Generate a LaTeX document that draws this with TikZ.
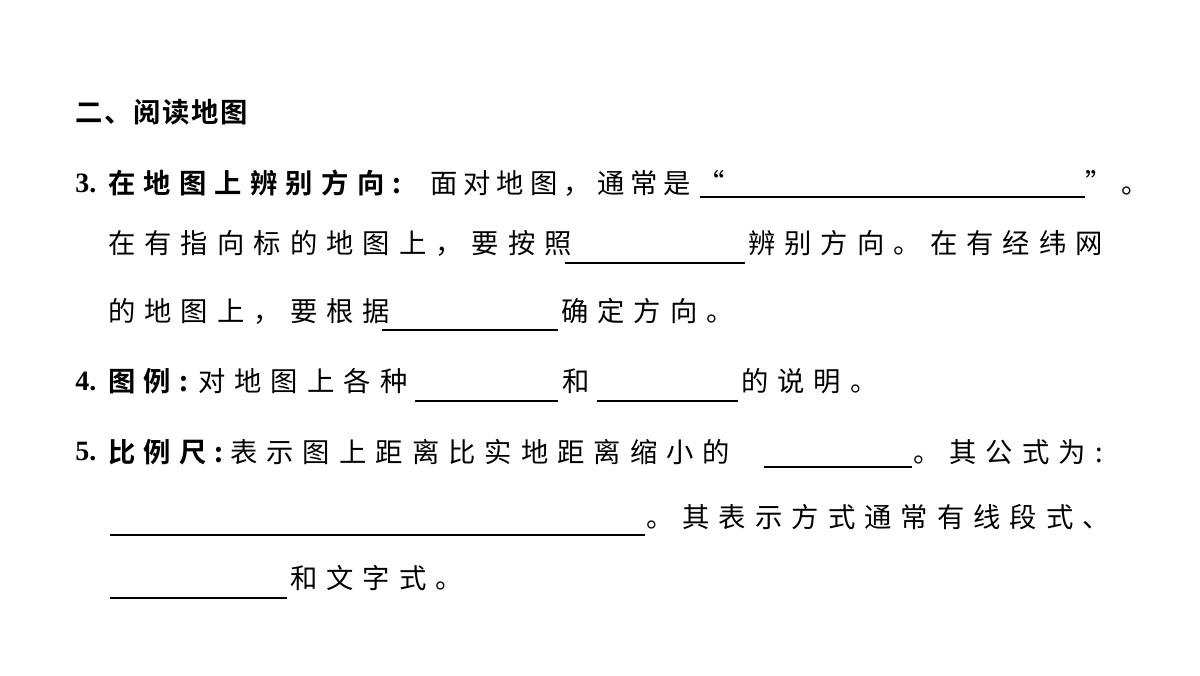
\documentclass[tikz,border=0pt]{standalone}
\usepackage{fontspec}
\newfontfamily\cjk[LetterSpace=33]{Noto Sans CJK SC}
\newfontfamily\cjkn[LetterSpace=22]{Noto Sans CJK SC}
\newfontfamily\cjkb[LetterSpace=30]{Noto Sans CJK SC Bold}
\newfontfamily\cjkh[LetterSpace=6]{Noto Sans CJK SC Bold}
\newfontfamily\num{Liberation Serif}
\begin{document}
\begin{tikzpicture}[x=0.75pt,y=-0.75pt,
  t/.style={anchor=west,inner sep=0pt,font=\fontsize{20.5}{24}\selectfont\cjk},
  tn/.style={anchor=west,inner sep=0pt,font=\fontsize{20.5}{24}\selectfont\cjkn},
  b/.style={anchor=west,inner sep=0pt,font=\fontsize{20.5}{24}\selectfont\cjkb},
  hd/.style={anchor=west,inner sep=0pt,font=\fontsize{20.5}{24}\selectfont\cjkh},
  n/.style={anchor=west,inner sep=0pt,font=\fontsize{21}{24}\selectfont\bfseries\num},
  u/.style={line width=0.9pt}]
\useasboundingbox (0,0) rectangle (1200,675);
\node[hd] (h) at (75,112) {二、阅读地图};
% 3
\node[n] (n3) at (75,183) {3.};
\node[b] (a1) at (108,183) {在地图上辨别方向:};
\node[tn] (a2) at (430,183) {面对地图，通常是“};
\coordinate (u1a) at (700,197); \coordinate (u1b) at (1085,197);
\draw[u] (u1a) -- (u1b);
\node[t] (a3) at (1085,183) {”。};
\node[t] (b1) at (108,243) {在有指向标的地图上，要按照};
\coordinate (u2a) at (565,263); \coordinate (u2b) at (745,263);
\draw[u] (u2a) -- (u2b);
\node[t] (b2) at (748,243) {辨别方向。在有经纬网};
\node[t] (c1) at (108,311) {的地图上，要根据};
\coordinate (u3a) at (382,330); \coordinate (u3b) at (558,330);
\draw[u] (u3a) -- (u3b);
\node[t] (c2) at (561,311) {确定方向。};
% 4
\node[n] (n4) at (75,381) {4.};
\node[b] (d1) at (108,381) {图例:};
\node[t] (d2) at (198,381) {对地图上各种};
\coordinate (u4a) at (415,401); \coordinate (u4b) at (558,401);
\draw[u] (u4a) -- (u4b);
\node[t] (d3) at (562,381) {和};
\coordinate (u5a) at (597,401); \coordinate (u5b) at (738,401);
\draw[u] (u5a) -- (u5b);
\node[t] (d4) at (741,381) {的说明。};
% 5
\node[n] (n5) at (75,452) {5.};
\node[b] (e1) at (108,452) {比例尺:};
\node[t] (e2) at (230,452) {表示图上距离比实地距离缩小的};
\coordinate (u6a) at (764,467); \coordinate (u6b) at (912,467);
\draw[u] (u6a) -- (u6b);
\node[t] (e3) at (913,452) {。其公式为:};
\coordinate (u7a) at (110,535); \coordinate (u7b) at (645,535);
\draw[u] (u7a) -- (u7b);
\node[t] (f1) at (646,517) {。其表示方式通常有线段式、};
\coordinate (u8a) at (110,598); \coordinate (u8b) at (287,598);
\draw[u] (u8a) -- (u8b);
\node[t] (g1) at (290,578) {和文字式。};
\end{tikzpicture}
\end{document}
